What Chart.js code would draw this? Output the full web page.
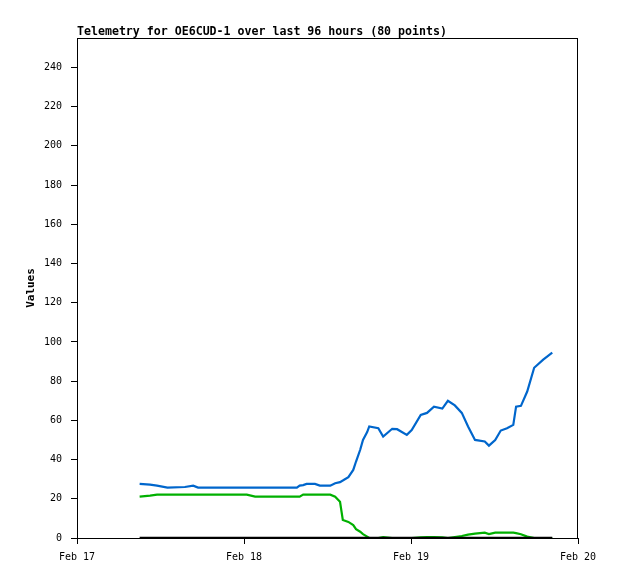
<!DOCTYPE html>
<html>
<head>
<meta charset="utf-8">
<title>Telemetry for OE6CUD-1</title>
<script src="https://cdn.jsdelivr.net/npm/chart.js@4.4.1/dist/chart.umd.min.js"></script>
<style>
  html, body { margin: 0; padding: 0; background: #fff; }
</style>
</head>
<body>
<canvas id="grafico-telemetria" width="618" height="579"></canvas>
<script>
// horas desde Feb 17 00:00
const horas = [
  9.0, 10.5, 11.5, 13.0, 15.5, 16.7, 17.4, 20.5, 24.4, 25.6,
  27.7, 31.6, 32.0, 32.5, 33.0, 34.2, 34.9, 36.4, 37.1, 37.8,
  38.2, 39.0, 39.7, 40.1, 40.7, 41.1, 41.7, 42.0, 43.3, 44.0,
  45.3, 46.0, 47.4, 48.1, 49.4, 50.3, 51.3, 52.5, 53.3, 54.3,
  55.3, 56.2, 57.2, 58.6, 59.2, 60.1, 60.9, 61.8, 62.7, 63.1,
  63.8, 64.7, 65.7, 67.0, 68.3
];
const serieAzul = [
  27.6, 27.2, 26.7, 25.7, 26.0, 26.7, 25.7, 25.7, 25.7, 25.7,
  25.7, 25.7, 26.7, 27.0, 27.6, 27.6, 26.7, 26.7, 27.9, 28.5,
  29.3, 31.0, 34.7, 39.0, 45.0, 50.0, 54.0, 56.9, 56.0, 51.7,
  55.7, 55.5, 52.6, 55.0, 62.8, 63.8, 67.0, 66.0, 70.0, 67.6,
  63.8, 56.9, 50.0, 49.2, 47.1, 50.0, 54.8, 56.0, 57.7, 67.0,
  67.4, 74.7, 86.8, 91.0, 94.5
];
const serieVerde = [
  21.1, 21.6, 22.1, 22.1, 22.1, 22.1, 22.1, 22.1, 22.1, 21.1,
  21.1, 21.1, 21.1, 22.1, 22.1, 22.1, 22.1, 22.1, 21.1, 18.5,
  9.2, 8.2, 6.6, 4.5, 3.2, 2.0, 0.7, 0, 0, 0.5,
  0, 0, 0, 0, 0.3, 0.5, 0.5, 0.3, 0, 0.5,
  1.0, 1.7, 2.2, 2.7, 2.0, 2.7, 2.7, 2.7, 2.7, 2.5,
  1.9, 0.7, 0, 0, 0
];
const seriePreta = horas.map(() => 0);

const ticksX = [0, 24, 48, 72];
const rotulosX = ['Feb 17', 'Feb 18', 'Feb 19', 'Feb 20'];
const ticksY = [0, 20, 40, 60, 80, 100, 120, 140, 160, 180, 200, 220, 240];

const pontos = (valores) => horas.map((h, i) => ({ x: h, y: valores[i] }));

// caixa do grafico + titulo desenhado a mao
const moldura = {
  id: 'moldura',
  afterDraw(chart) {
    const { ctx, chartArea: a } = chart;
    ctx.save();
    ctx.strokeStyle = '#000';
    ctx.lineWidth = 1;
    ctx.strokeRect(a.left + 0.5, a.top + 0.5, a.right - a.left - 1, a.bottom - a.top);
    ctx.fillStyle = '#000';
    ctx.font = 'bold 11.6px "DejaVu Sans Mono"';
    ctx.textBaseline = 'alphabetic';
    ctx.fillText('Telemetry for OE6CUD-1 over last 96 hours (80 points)', 77, 35);
    ctx.restore();
  }
};

const linha = (cor) => ({
  borderColor: cor,
  borderWidth: 2.2,
  pointRadius: 0,
  tension: 0,
  fill: false,
});

new Chart(document.getElementById('grafico-telemetria'), {
  type: 'line',
  data: {
    datasets: [
      { data: pontos(seriePreta), ...linha('#000000'), borderWidth: 2.5 },
      { data: pontos(serieAzul), ...linha('#0066cc') },
      { data: pontos(serieVerde), ...linha('#00b000') },
    ],
  },
  options: {
    responsive: false,
    animation: false,
    layout: { padding: { top: 38, right: 40, left: 0, bottom: 0 } },
    plugins: { legend: { display: false }, tooltip: { enabled: false } },
    scales: {
      x: {
        type: 'linear',
        min: 0,
        max: 72,
        afterBuildTicks: (s) => { s.ticks = ticksX.map(v => ({ value: v })); },
        afterFit: (s) => { s.height = 41; },
        grid: { drawOnChartArea: false, drawTicks: true, tickLength: 6, color: '#000' },
        border: { color: '#000', width: 1 },
        ticks: {
          color: '#000',
          padding: 7,
          maxRotation: 0,
          font: { family: 'DejaVu Sans Mono', size: 10 },
          callback: (v) => rotulosX[ticksX.indexOf(v)] ?? '',
        },
      },
      y: {
        min: 0,
        max: 255,
        afterBuildTicks: (s) => { s.ticks = ticksY.map(v => ({ value: v })); },
        afterFit: (s) => { s.width = 77; },
        grid: { drawOnChartArea: false, drawTicks: true, tickLength: 6, color: '#000' },
        border: { color: '#000', width: 1 },
        ticks: {
          color: '#000',
          padding: 9,
          font: { family: 'DejaVu Sans Mono', size: 10 },
        },
        title: {
          display: true,
          text: 'Values',
          color: '#000',
          padding: { top: 25, bottom: 0 },
          font: { family: 'DejaVu Sans Mono', size: 11, weight: 'bold' },
        },
      },
    },
  },
  plugins: [moldura],
});
</script>
</body>
</html>
